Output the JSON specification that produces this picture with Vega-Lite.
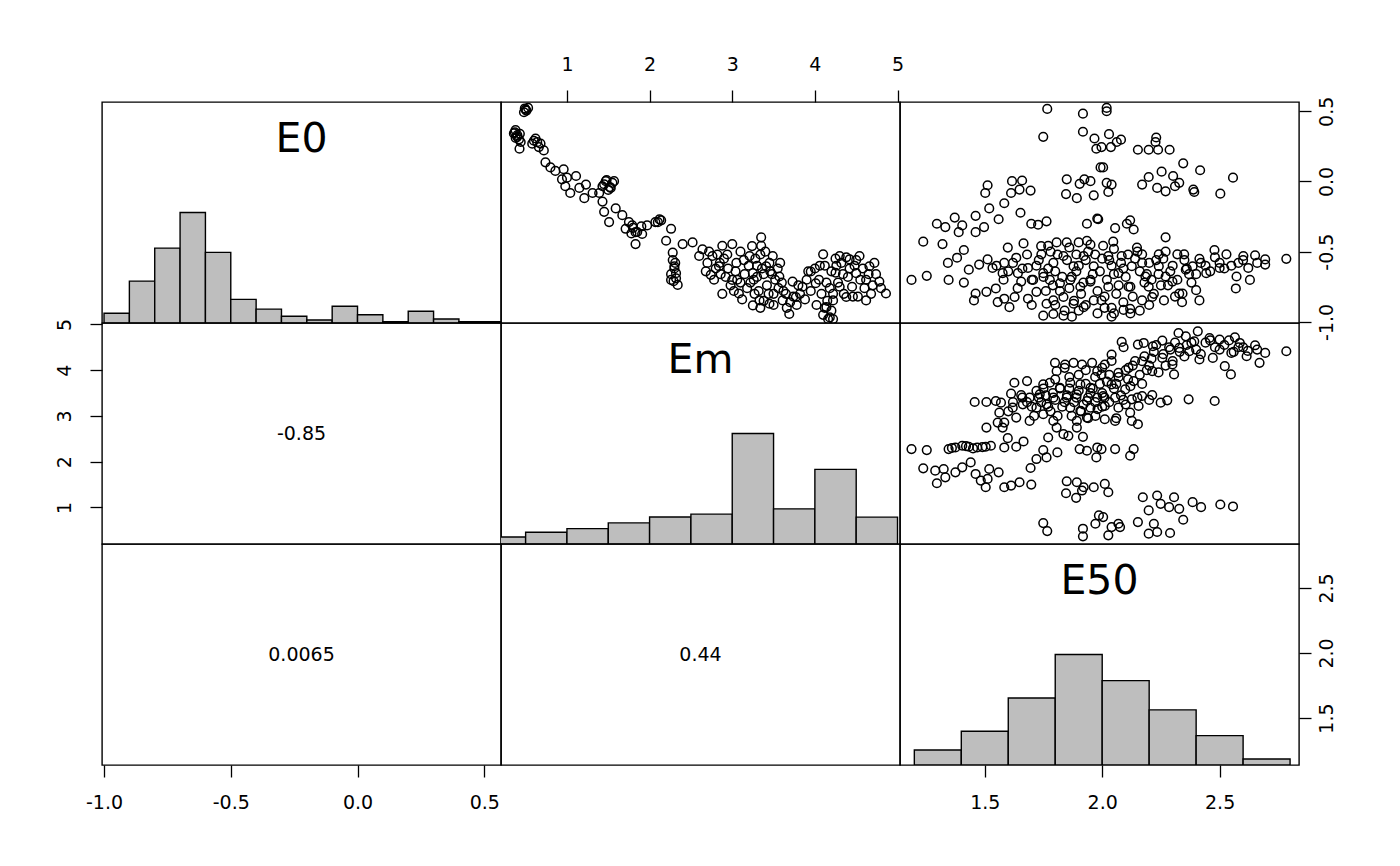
{
  "$schema": "https://vega.github.io/schema/vega-lite/v6.json",
  "description": "Scatterplot matrix of E0, Em and E50 with histograms and correlations",
  "background": "white",
  "padding": {"left": 54, "top": 54, "right": 5, "bottom": 5},
  "config": {
    "font": "DejaVu Sans",
    "view": {"stroke": "black", "strokeWidth": 1.4},
    "axis": {
      "domain": false,
      "grid": false,
      "tickSize": 12,
      "tickColor": "black",
      "tickWidth": 1.3,
      "labelFontSize": 19,
      "labelColor": "black",
      "labelFont": "DejaVu Sans",
      "labelFlush": false,
      "labelOverlap": false
    }
  },
  "datasets": {
    "h0": [
      {"lo": -1.0, "hi": -0.9, "h": 0.088},
      {"lo": -0.9, "hi": -0.8, "h": 0.379},
      {"lo": -0.8, "hi": -0.7, "h": 0.678},
      {"lo": -0.7, "hi": -0.6, "h": 1.0},
      {"lo": -0.6, "hi": -0.5, "h": 0.639},
      {"lo": -0.5, "hi": -0.4, "h": 0.214},
      {"lo": -0.4, "hi": -0.3, "h": 0.126},
      {"lo": -0.3, "hi": -0.2, "h": 0.061},
      {"lo": -0.2, "hi": -0.1, "h": 0.027},
      {"lo": -0.1, "hi": 0.0, "h": 0.151},
      {"lo": 0.0, "hi": 0.1, "h": 0.075},
      {"lo": 0.1, "hi": 0.2, "h": 0.012},
      {"lo": 0.2, "hi": 0.3, "h": 0.106},
      {"lo": 0.3, "hi": 0.4, "h": 0.036},
      {"lo": 0.4, "hi": 0.5, "h": 0.012},
      {"lo": 0.5, "hi": 0.6, "h": 0.012}
    ],
    "hm": [
      {"lo": 0.0, "hi": 0.5, "h": 0.064},
      {"lo": 0.5, "hi": 1.0, "h": 0.106},
      {"lo": 1.0, "hi": 1.5, "h": 0.139},
      {"lo": 1.5, "hi": 2.0, "h": 0.191},
      {"lo": 2.0, "hi": 2.5, "h": 0.245},
      {"lo": 2.5, "hi": 3.0, "h": 0.27},
      {"lo": 3.0, "hi": 3.5, "h": 1.0},
      {"lo": 3.5, "hi": 4.0, "h": 0.318},
      {"lo": 4.0, "hi": 4.5, "h": 0.675},
      {"lo": 4.5, "hi": 5.0, "h": 0.243}
    ],
    "h50": [
      {"lo": 1.2, "hi": 1.4, "h": 0.136},
      {"lo": 1.4, "hi": 1.6, "h": 0.305},
      {"lo": 1.6, "hi": 1.8, "h": 0.607},
      {"lo": 1.8, "hi": 2.0, "h": 1.0},
      {"lo": 2.0, "hi": 2.2, "h": 0.764},
      {"lo": 2.2, "hi": 2.4, "h": 0.499},
      {"lo": 2.4, "hi": 2.6, "h": 0.266},
      {"lo": 2.6, "hi": 2.8, "h": 0.054}
    ],
    "s01": [
      {"Em": 0.50, "E0": 0.512}, {"Em": 0.48, "E0": 0.493}, {"Em": 0.53, "E0": 0.524}, {"Em": 0.378, "E0": 0.366},
      {"Em": 0.398, "E0": 0.318}, {"Em": 0.426, "E0": 0.233}, {"Em": 0.44, "E0": 0.281}, {"Em": 0.358, "E0": 0.342},
      {"Em": 0.62, "E0": 0.306}, {"Em": 0.58, "E0": 0.269}, {"Em": 0.66, "E0": 0.245}, {"Em": 0.72, "E0": 0.221},
      {"Em": 0.74, "E0": 0.136}, {"Em": 0.80, "E0": 0.10}, {"Em": 0.86, "E0": 0.075}, {"Em": 0.96, "E0": 0.087},
      {"Em": 0.94, "E0": 0.015}, {"Em": 1.00, "E0": 0.027}, {"Em": 1.11, "E0": 0.039}, {"Em": 0.98, "E0": -0.034},
      {"Em": 1.04, "E0": -0.082}, {"Em": 1.15, "E0": -0.046}, {"Em": 1.21, "E0": -0.119}, {"Em": 1.23, "E0": -0.022},
      {"Em": 1.31, "E0": -0.082}, {"Em": 1.39, "E0": -0.082}, {"Em": 1.47, "E0": 0.002}, {"Em": 1.57, "E0": 0.002},
      {"Em": 1.53, "E0": -0.046}, {"Em": 1.43, "E0": -0.034}, {"Em": 1.43, "E0": -0.143}, {"Em": 1.45, "E0": -0.216},
      {"Em": 1.51, "E0": -0.289}, {"Em": 1.59, "E0": -0.192}, {"Em": 1.67, "E0": -0.24}, {"Em": 1.75, "E0": -0.289},
      {"Em": 1.79, "E0": -0.313}, {"Em": 1.83, "E0": -0.361}, {"Em": 1.71, "E0": -0.337}, {"Em": 1.83, "E0": -0.446},
      {"Em": 1.91, "E0": -0.374}, {"Em": 1.97, "E0": -0.313}, {"Em": 2.07, "E0": -0.289}, {"Em": 2.14, "E0": -0.277},
      {"Em": 2.26, "E0": -0.337}, {"Em": 2.20, "E0": -0.422}, {"Em": 2.28, "E0": -0.507}, {"Em": 2.30, "E0": -0.604},
      {"Em": 2.26, "E0": -0.701}, {"Em": 2.34, "E0": -0.737}, {"Em": 2.32, "E0": -0.653}, {"Em": 2.40, "E0": -0.446},
      {"Em": 2.52, "E0": -0.434}, {"Em": 2.60, "E0": -0.531},
      {"Em": 2.64, "E0": -0.483}, {"Em": 2.76, "E0": -0.531}, {"Em": 2.88, "E0": -0.458}, {"Em": 3.00, "E0": -0.446},
      {"Em": 2.74, "E0": -0.665}, {"Em": 2.84, "E0": -0.604}, {"Em": 3.00, "E0": -0.701}, {"Em": 3.08, "E0": -0.798},
      {"Em": 3.21, "E0": -0.531}, {"Em": 3.35, "E0": -0.398}, {"Em": 3.35, "E0": -0.458}, {"Em": 3.25, "E0": -0.653},
      {"Em": 3.41, "E0": -0.604}, {"Em": 3.49, "E0": -0.531}, {"Em": 3.57, "E0": -0.677}, {"Em": 3.33, "E0": -0.847},
      {"Em": 3.25, "E0": -0.883}, {"Em": 3.45, "E0": -0.871}, {"Em": 3.61, "E0": -0.847}, {"Em": 3.73, "E0": -0.713},
      {"Em": 3.69, "E0": -0.944}, {"Em": 3.77, "E0": -0.823}, {"Em": 3.85, "E0": -0.750}, {"Em": 3.95, "E0": -0.641},
      {"Em": 4.01, "E0": -0.725}, {"Em": 4.10, "E0": -0.519}, {"Em": 4.14, "E0": -0.895}, {"Em": 4.18, "E0": -0.968},
      {"Em": 4.22, "E0": -0.847}, {"Em": 4.30, "E0": -0.531}, {"Em": 4.42, "E0": -0.555}, {"Em": 4.54, "E0": -0.531},
      {"Em": 4.50, "E0": -0.653}, {"Em": 4.66, "E0": -0.604}, {"Em": 4.78, "E0": -0.713}, {"Em": 4.86, "E0": -0.798},
      {"Em": 4.62, "E0": -0.847}, {"Em": 4.38, "E0": -0.823}, {"Em": 4.30, "E0": -0.750},
      {"Em": 2.9, "E0": -0.55}, {"Em": 2.95, "E0": -0.62}, {"Em": 3.05, "E0": -0.58}, {"Em": 3.1, "E0": -0.50},
      {"Em": 3.15, "E0": -0.66}, {"Em": 3.2, "E0": -0.60}, {"Em": 3.22, "E0": -0.72}, {"Em": 3.28, "E0": -0.55},
      {"Em": 3.3, "E0": -0.68}, {"Em": 3.32, "E0": -0.78}, {"Em": 3.36, "E0": -0.62}, {"Em": 3.4, "E0": -0.50},
      {"Em": 3.42, "E0": -0.74}, {"Em": 3.45, "E0": -0.58}, {"Em": 3.48, "E0": -0.66}, {"Em": 3.5, "E0": -0.80},
      {"Em": 3.38, "E0": -0.85}, {"Em": 3.27, "E0": -0.80}, {"Em": 3.18, "E0": -0.76}, {"Em": 3.12, "E0": -0.84},
      {"Em": 3.06, "E0": -0.70}, {"Em": 2.98, "E0": -0.74}, {"Em": 2.92, "E0": -0.68}, {"Em": 2.85, "E0": -0.58},
      {"Em": 2.8, "E0": -0.62}, {"Em": 2.7, "E0": -0.58}, {"Em": 2.68, "E0": -0.64}, {"Em": 2.82, "E0": -0.52},
      {"Em": 3.55, "E0": -0.62}, {"Em": 3.6, "E0": -0.72}, {"Em": 3.65, "E0": -0.80}, {"Em": 3.7, "E0": -0.86},
      {"Em": 3.78, "E0": -0.88}, {"Em": 3.82, "E0": -0.80}, {"Em": 3.9, "E0": -0.70}, {"Em": 3.95, "E0": -0.78},
      {"Em": 4.0, "E0": -0.62}, {"Em": 4.05, "E0": -0.70}, {"Em": 4.08, "E0": -0.80}, {"Em": 4.12, "E0": -0.60},
      {"Em": 4.15, "E0": -0.85}, {"Em": 4.2, "E0": -0.92}, {"Em": 4.18, "E0": -0.76}, {"Em": 4.25, "E0": -0.65},
      {"Em": 4.28, "E0": -0.72}, {"Em": 4.32, "E0": -0.58}, {"Em": 4.35, "E0": -0.80}, {"Em": 4.4, "E0": -0.68},
      {"Em": 4.45, "E0": -0.75}, {"Em": 4.48, "E0": -0.60}, {"Em": 4.52, "E0": -0.82}, {"Em": 4.55, "E0": -0.70},
      {"Em": 4.6, "E0": -0.76}, {"Em": 4.65, "E0": -0.66}, {"Em": 4.7, "E0": -0.74}, {"Em": 4.72, "E0": -0.58},
      {"Em": 4.38, "E0": -0.54}, {"Em": 4.25, "E0": -0.55}, {"Em": 4.1, "E0": -0.95}, {"Em": 4.16, "E0": -0.98},
      {"Em": 3.34, "E0": -0.90}, {"Em": 3.5, "E0": -0.88}, {"Em": 3.02, "E0": -0.78}, {"Em": 2.88, "E0": -0.80},
      {"Em": 1.45, "E0": -0.02}, {"Em": 1.5, "E0": -0.06}, {"Em": 1.55, "E0": -0.01}, {"Em": 1.48, "E0": 0.01},
      {"Em": 1.52, "E0": -0.04}, {"Em": 1.8, "E0": -0.33}, {"Em": 1.85, "E0": -0.36}, {"Em": 1.9, "E0": -0.32},
      {"Em": 1.78, "E0": -0.37}, {"Em": 2.28, "E0": -0.56}, {"Em": 2.3, "E0": -0.62}, {"Em": 2.26, "E0": -0.66},
      {"Em": 2.32, "E0": -0.69}, {"Em": 2.29, "E0": -0.71}, {"Em": 2.31, "E0": -0.58}, {"Em": 0.4, "E0": 0.33},
      {"Em": 0.42, "E0": 0.30}, {"Em": 0.38, "E0": 0.31}, {"Em": 0.64, "E0": 0.28}, {"Em": 0.68, "E0": 0.27},
      {"Em": 0.6, "E0": 0.29}, {"Em": 2.1, "E0": -0.29}, {"Em": 2.12, "E0": -0.27},
      {"Em": 2.72, "E0": -0.5}, {"Em": 2.78, "E0": -0.7}, {"Em": 2.86, "E0": -0.66}, {"Em": 2.94, "E0": -0.52},
      {"Em": 3.04, "E0": -0.64}, {"Em": 3.14, "E0": -0.56}, {"Em": 3.24, "E0": -0.46}, {"Em": 3.26, "E0": -0.7},
      {"Em": 3.3, "E0": -0.6}, {"Em": 3.34, "E0": -0.52}, {"Em": 3.38, "E0": -0.66}, {"Em": 3.44, "E0": -0.8},
      {"Em": 3.46, "E0": -0.64}, {"Em": 3.52, "E0": -0.7}, {"Em": 3.56, "E0": -0.76}, {"Em": 3.62, "E0": -0.78},
      {"Em": 3.66, "E0": -0.9}, {"Em": 3.74, "E0": -0.82}, {"Em": 3.8, "E0": -0.74}, {"Em": 3.88, "E0": -0.84},
      {"Em": 3.92, "E0": -0.64}, {"Em": 4.02, "E0": -0.88}, {"Em": 4.06, "E0": -0.6}, {"Em": 4.14, "E0": -0.72},
      {"Em": 4.2, "E0": -0.64}, {"Em": 4.22, "E0": -0.8}, {"Em": 4.26, "E0": -0.6}, {"Em": 4.34, "E0": -0.66},
      {"Em": 4.42, "E0": -0.62}, {"Em": 4.46, "E0": -0.82}, {"Em": 4.5, "E0": -0.56}, {"Em": 4.58, "E0": -0.62},
      {"Em": 4.62, "E0": -0.7}, {"Em": 4.68, "E0": -0.8}, {"Em": 4.74, "E0": -0.66}, {"Em": 4.8, "E0": -0.76},
      {"Em": 4.22, "E0": -0.98}, {"Em": 4.12, "E0": -0.9}, {"Em": 3.58, "E0": -0.58}, {"Em": 3.1, "E0": -0.72},
      {"Em": 0.51, "E0": 0.505}, {"Em": 0.49, "E0": 0.52}, {"Em": 0.37, "E0": 0.35}, {"Em": 0.43, "E0": 0.34}
    ],
    "s02": [
      {"E50": 1.188, "E0": -0.701}, {"E50": 1.253, "E0": -0.672}, {"E50": 1.238, "E0": -0.429}, {"E50": 1.320, "E0": -0.446},
      {"E50": 1.296, "E0": -0.301}, {"E50": 1.332, "E0": -0.325}, {"E50": 1.372, "E0": -0.257}, {"E50": 1.404, "E0": -0.313},
      {"E50": 1.389, "E0": -0.361}, {"E50": 1.461, "E0": -0.361}, {"E50": 1.461, "E0": -0.245}, {"E50": 1.497, "E0": -0.325},
      {"E50": 1.519, "E0": -0.192}, {"E50": 1.502, "E0": -0.082}, {"E50": 1.512, "E0": -0.027}, {"E50": 1.559, "E0": -0.269},
      {"E50": 1.583, "E0": -0.155}, {"E50": 1.612, "E0": -0.082}, {"E50": 1.616, "E0": 0.002}, {"E50": 1.659, "E0": 0.007},
      {"E50": 1.648, "E0": -0.058}, {"E50": 1.695, "E0": -0.065}, {"E50": 1.652, "E0": -0.223}, {"E50": 1.698, "E0": -0.301},
      {"E50": 1.727, "E0": -0.308}, {"E50": 1.763, "E0": -0.284}, {"E50": 1.665, "E0": -0.441}, {"E50": 1.598, "E0": -0.471},
      {"E50": 1.411, "E0": -0.488}, {"E50": 1.382, "E0": -0.543}, {"E50": 1.343, "E0": -0.580}, {"E50": 1.346, "E0": -0.701},
      {"E50": 1.411, "E0": -0.720}, {"E50": 1.432, "E0": -0.628}, {"E50": 1.476, "E0": -0.592}, {"E50": 1.512, "E0": -0.555},
      {"E50": 1.533, "E0": -0.616}, {"E50": 1.583, "E0": -0.580}, {"E50": 1.634, "E0": -0.543}, {"E50": 1.576, "E0": -0.653},
      {"E50": 1.461, "E0": -0.798}, {"E50": 1.454, "E0": -0.847}, {"E50": 1.507, "E0": -0.786}, {"E50": 1.547, "E0": -0.762},
      {"E50": 1.555, "E0": -0.859}, {"E50": 1.583, "E0": -0.835}, {"E50": 1.605, "E0": -0.895}, {"E50": 1.627, "E0": -0.823},
      {"E50": 1.655, "E0": -0.713}, {"E50": 1.641, "E0": -0.653}, {"E50": 1.684, "E0": -0.616}, {"E50": 1.706, "E0": -0.701},
      {"E50": 1.684, "E0": -0.835}, {"E50": 1.720, "E0": -0.786}, {"E50": 1.749, "E0": -0.653}, {"E50": 1.741, "E0": -0.519},
      {"E50": 1.770, "E0": -0.458}, {"E50": 1.806, "E0": -0.434}, {"E50": 1.849, "E0": -0.434}, {"E50": 1.900, "E0": -0.434},
      {"E50": 1.935, "E0": -0.422}, {"E50": 1.792, "E0": -0.580}, {"E50": 1.835, "E0": -0.531}, {"E50": 1.878, "E0": -0.604},
      {"E50": 1.921, "E0": -0.531}, {"E50": 1.964, "E0": -0.604}, {"E50": 1.777, "E0": -0.701}, {"E50": 1.820, "E0": -0.725},
      {"E50": 1.864, "E0": -0.701}, {"E50": 1.907, "E0": -0.750}, {"E50": 1.950, "E0": -0.713}, {"E50": 1.792, "E0": -0.847},
      {"E50": 1.835, "E0": -0.823}, {"E50": 1.878, "E0": -0.871}, {"E50": 1.921, "E0": -0.895}, {"E50": 1.964, "E0": -0.847},
      {"E50": 1.749, "E0": -0.956}, {"E50": 1.792, "E0": -0.944}, {"E50": 1.835, "E0": -0.956}, {"E50": 1.871, "E0": -0.963},
      {"E50": 1.763, "E0": -0.871}, {"E50": 1.749, "E0": 0.318}, {"E50": 1.766, "E0": 0.517}, {"E50": 1.918, "E0": 0.483},
      {"E50": 1.918, "E0": 0.354}, {"E50": 1.967, "E0": 0.306}, {"E50": 1.975, "E0": 0.233}, {"E50": 1.993, "E0": 0.100},
      {"E50": 1.849, "E0": 0.015}, {"E50": 1.846, "E0": -0.090}, {"E50": 1.892, "E0": -0.119}, {"E50": 1.904, "E0": -0.017},
      {"E50": 1.924, "E0": 0.015}, {"E50": 1.950, "E0": 0.002}, {"E50": 1.964, "E0": -0.099}, {"E50": 1.935, "E0": -0.301},
      {"E50": 1.979, "E0": -0.264},
      {"E50": 2.019, "E0": 0.524}, {"E50": 2.019, "E0": 0.500}, {"E50": 2.029, "E0": 0.337}, {"E50": 2.080, "E0": 0.298},
      {"E50": 2.062, "E0": 0.281}, {"E50": 2.037, "E0": 0.245}, {"E50": 1.997, "E0": 0.245}, {"E50": 2.152, "E0": 0.226},
      {"E50": 2.198, "E0": 0.226}, {"E50": 2.230, "E0": 0.313}, {"E50": 2.227, "E0": 0.281}, {"E50": 2.238, "E0": 0.226},
      {"E50": 2.287, "E0": 0.226}, {"E50": 2.004, "E0": 0.100}, {"E50": 2.345, "E0": 0.129}, {"E50": 2.417, "E0": 0.080},
      {"E50": 2.557, "E0": 0.027}, {"E50": 2.019, "E0": -0.010}, {"E50": 2.040, "E0": -0.022}, {"E50": 2.026, "E0": -0.075},
      {"E50": 2.170, "E0": -0.022}, {"E50": 2.198, "E0": 0.032}, {"E50": 2.253, "E0": 0.070}, {"E50": 2.302, "E0": 0.039},
      {"E50": 2.328, "E0": -0.010}, {"E50": 2.234, "E0": -0.046}, {"E50": 2.270, "E0": -0.070}, {"E50": 2.310, "E0": -0.034},
      {"E50": 2.388, "E0": -0.058}, {"E50": 2.392, "E0": -0.075}, {"E50": 2.503, "E0": -0.087}, {"E50": 1.983, "E0": -0.269},
      {"E50": 2.119, "E0": -0.277}, {"E50": 2.105, "E0": -0.301}, {"E50": 2.134, "E0": -0.342}, {"E50": 2.055, "E0": -0.332},
      {"E50": 2.270, "E0": -0.398}, {"E50": 2.047, "E0": -0.429}, {"E50": 2.004, "E0": -0.458}, {"E50": 2.148, "E0": -0.471},
      {"E50": 2.170, "E0": -0.519}, {"E50": 2.241, "E0": -0.519}, {"E50": 2.320, "E0": -0.519}, {"E50": 2.349, "E0": -0.519},
      {"E50": 2.414, "E0": -0.551}, {"E50": 2.478, "E0": -0.488}, {"E50": 2.529, "E0": -0.519}, {"E50": 2.601, "E0": -0.531},
      {"E50": 2.651, "E0": -0.526}, {"E50": 2.694, "E0": -0.555}, {"E50": 2.784, "E0": -0.551}, {"E50": 2.622, "E0": -0.616},
      {"E50": 2.572, "E0": -0.677}, {"E50": 2.629, "E0": -0.701}, {"E50": 2.569, "E0": -0.762}, {"E50": 2.694, "E0": -0.592},
      {"E50": 2.500, "E0": -0.616}, {"E50": 2.443, "E0": -0.653}, {"E50": 2.414, "E0": -0.847}, {"E50": 2.400, "E0": -0.774},
      {"E50": 2.342, "E0": -0.798}, {"E50": 2.299, "E0": -0.713}, {"E50": 2.263, "E0": -0.847}, {"E50": 2.213, "E0": -0.823},
      {"E50": 2.170, "E0": -0.847}, {"E50": 2.119, "E0": -0.907}, {"E50": 2.091, "E0": -0.915}, {"E50": 2.040, "E0": -0.900},
      {"E50": 2.040, "E0": -0.963}, {"E50": 1.997, "E0": -0.847}, {"E50": 2.069, "E0": -0.653}, {"E50": 2.126, "E0": -0.604},
      {"E50": 2.184, "E0": -0.677}, {"E50": 2.241, "E0": -0.604}, {"E50": 2.356, "E0": -0.628}, {"E50": 2.026, "E0": -0.531},
      {"E50": 2.083, "E0": -0.531}, {"E50": 2.026, "E0": -0.750}, {"E50": 2.112, "E0": -0.750}, {"E50": 2.198, "E0": -0.750},
      {"E50": 2.270, "E0": -0.677}, {"E50": 2.328, "E0": -0.798}, {"E50": 2.385, "E0": -0.604},
      {"E50": 1.68, "E0": -0.52}, {"E50": 1.72, "E0": -0.6}, {"E50": 1.75, "E0": -0.68}, {"E50": 1.78, "E0": -0.5},
      {"E50": 1.8, "E0": -0.64}, {"E50": 1.82, "E0": -0.78}, {"E50": 1.85, "E0": -0.56}, {"E50": 1.87, "E0": -0.68},
      {"E50": 1.88, "E0": -0.85}, {"E50": 1.9, "E0": -0.6}, {"E50": 1.92, "E0": -0.72}, {"E50": 1.94, "E0": -0.5},
      {"E50": 1.96, "E0": -0.66}, {"E50": 1.98, "E0": -0.78}, {"E50": 2.0, "E0": -0.55}, {"E50": 2.02, "E0": -0.7},
      {"E50": 2.04, "E0": -0.6}, {"E50": 2.06, "E0": -0.8}, {"E50": 2.08, "E0": -0.58}, {"E50": 2.1, "E0": -0.68},
      {"E50": 2.12, "E0": -0.75}, {"E50": 2.14, "E0": -0.55}, {"E50": 2.16, "E0": -0.64}, {"E50": 2.18, "E0": -0.72},
      {"E50": 2.2, "E0": -0.58}, {"E50": 2.22, "E0": -0.8}, {"E50": 2.24, "E0": -0.66}, {"E50": 2.26, "E0": -0.55},
      {"E50": 2.28, "E0": -0.74}, {"E50": 2.3, "E0": -0.6}, {"E50": 2.32, "E0": -0.7}, {"E50": 2.36, "E0": -0.62},
      {"E50": 2.38, "E0": -0.72}, {"E50": 2.42, "E0": -0.58}, {"E50": 2.46, "E0": -0.64}, {"E50": 2.5, "E0": -0.58},
      {"E50": 2.55, "E0": -0.6}, {"E50": 2.6, "E0": -0.56}, {"E50": 2.66, "E0": -0.58}, {"E50": 1.86, "E0": -0.47},
      {"E50": 1.95, "E0": -0.45}, {"E50": 2.05, "E0": -0.48}, {"E50": 2.15, "E0": -0.5}, {"E50": 1.76, "E0": -0.78},
      {"E50": 1.84, "E0": -0.92}, {"E50": 1.93, "E0": -0.88}, {"E50": 2.01, "E0": -0.9}, {"E50": 2.09, "E0": -0.86},
      {"E50": 2.16, "E0": -0.92}, {"E50": 1.7, "E0": -0.88}, {"E50": 1.66, "E0": -0.62}, {"E50": 1.62, "E0": -0.58},
      {"E50": 1.58, "E0": -0.7}, {"E50": 1.74, "E0": -0.46}, {"E50": 1.98, "E0": -0.94}, {"E50": 2.12, "E0": -0.94},
      {"E50": 2.34, "E0": -0.86}, {"E50": 2.4, "E0": -0.66}, {"E50": 1.89, "E0": -0.52}, {"E50": 2.27, "E0": -0.5},
      {"E50": 1.7, "E0": -0.7}, {"E50": 1.73, "E0": -0.56}, {"E50": 1.77, "E0": -0.62}, {"E50": 1.79, "E0": -0.74},
      {"E50": 1.81, "E0": -0.52}, {"E50": 1.83, "E0": -0.68}, {"E50": 1.86, "E0": -0.76}, {"E50": 1.89, "E0": -0.64},
      {"E50": 1.91, "E0": -0.8}, {"E50": 1.93, "E0": -0.56}, {"E50": 1.95, "E0": -0.7}, {"E50": 1.97, "E0": -0.52},
      {"E50": 1.99, "E0": -0.64}, {"E50": 2.01, "E0": -0.82}, {"E50": 2.03, "E0": -0.56}, {"E50": 2.05, "E0": -0.66},
      {"E50": 2.07, "E0": -0.74}, {"E50": 2.09, "E0": -0.62}, {"E50": 2.11, "E0": -0.52}, {"E50": 2.13, "E0": -0.82},
      {"E50": 2.17, "E0": -0.58}, {"E50": 2.19, "E0": -0.66}, {"E50": 2.21, "E0": -0.7}, {"E50": 2.23, "E0": -0.56},
      {"E50": 2.25, "E0": -0.74}, {"E50": 2.29, "E0": -0.64}, {"E50": 2.31, "E0": -0.82}, {"E50": 2.35, "E0": -0.56},
      {"E50": 2.37, "E0": -0.66}, {"E50": 2.44, "E0": -0.6}, {"E50": 2.48, "E0": -0.54}, {"E50": 2.52, "E0": -0.62},
      {"E50": 2.58, "E0": -0.58}, {"E50": 1.8, "E0": -0.88}, {"E50": 1.9, "E0": -0.92}, {"E50": 2.05, "E0": -0.94},
      {"E50": 2.2, "E0": -0.88}, {"E50": 1.64, "E0": -0.76}, {"E50": 1.6, "E0": -0.64}, {"E50": 1.55, "E0": -0.6}
    ],
    "s12": [
      {"E50": 1.188, "Em": 2.275}, {"E50": 1.253, "Em": 2.253}, {"E50": 1.238, "Em": 1.855}, {"E50": 1.296, "Em": 1.529},
      {"E50": 1.289, "Em": 1.804}, {"E50": 1.325, "Em": 1.840}, {"E50": 1.332, "Em": 1.659}, {"E50": 1.346, "Em": 2.275},
      {"E50": 1.375, "Em": 2.311}, {"E50": 1.404, "Em": 2.348}, {"E50": 1.432, "Em": 2.326}, {"E50": 1.468, "Em": 2.311},
      {"E50": 1.504, "Em": 2.326}, {"E50": 1.526, "Em": 2.348}, {"E50": 1.375, "Em": 1.768}, {"E50": 1.404, "Em": 1.877},
      {"E50": 1.440, "Em": 1.985}, {"E50": 1.461, "Em": 1.732}, {"E50": 1.483, "Em": 1.587}, {"E50": 1.504, "Em": 1.442},
      {"E50": 1.519, "Em": 1.840}, {"E50": 1.512, "Em": 1.623}, {"E50": 1.559, "Em": 1.768}, {"E50": 1.583, "Em": 1.442},
      {"E50": 1.612, "Em": 1.478}, {"E50": 1.648, "Em": 1.551}, {"E50": 1.698, "Em": 1.500}, {"E50": 1.583, "Em": 2.311},
      {"E50": 1.598, "Em": 2.514}, {"E50": 1.634, "Em": 2.326}, {"E50": 1.665, "Em": 2.442}, {"E50": 1.695, "Em": 1.862},
      {"E50": 1.720, "Em": 2.058}, {"E50": 1.749, "Em": 2.253}, {"E50": 1.763, "Em": 2.094}, {"E50": 1.809, "Em": 2.203},
      {"E50": 1.457, "Em": 3.304}, {"E50": 1.507, "Em": 3.304}, {"E50": 1.547, "Em": 3.326}, {"E50": 1.569, "Em": 3.290},
      {"E50": 1.562, "Em": 3.072}, {"E50": 1.555, "Em": 2.855}, {"E50": 1.583, "Em": 2.855}, {"E50": 1.576, "Em": 2.746},
      {"E50": 1.507, "Em": 2.746}, {"E50": 1.626, "Em": 3.724}, {"E50": 1.680, "Em": 3.761}, {"E50": 1.612, "Em": 3.486},
      {"E50": 1.655, "Em": 3.456}, {"E50": 1.619, "Em": 3.181}, {"E50": 1.634, "Em": 2.964}, {"E50": 1.662, "Em": 3.253},
      {"E50": 1.691, "Em": 3.398}, {"E50": 1.720, "Em": 3.181}, {"E50": 1.691, "Em": 2.891}, {"E50": 1.749, "Em": 3.688},
      {"E50": 1.777, "Em": 3.724}, {"E50": 1.734, "Em": 3.471}, {"E50": 1.763, "Em": 3.253}, {"E50": 1.792, "Em": 3.398},
      {"E50": 1.820, "Em": 3.616}, {"E50": 1.749, "Em": 3.036}, {"E50": 1.792, "Em": 2.891}, {"E50": 1.770, "Em": 2.529},
      {"E50": 1.806, "Em": 2.746}, {"E50": 1.835, "Em": 2.601}, {"E50": 1.856, "Em": 2.565}, {"E50": 1.806, "Em": 3.978},
      {"E50": 1.799, "Em": 4.159}, {"E50": 1.842, "Em": 4.123}, {"E50": 1.878, "Em": 4.159}, {"E50": 1.914, "Em": 4.123},
      {"E50": 1.957, "Em": 4.159}, {"E50": 1.979, "Em": 3.978}, {"E50": 1.864, "Em": 3.724}, {"E50": 1.907, "Em": 3.688},
      {"E50": 1.950, "Em": 3.616}, {"E50": 1.849, "Em": 3.398}, {"E50": 1.892, "Em": 3.471}, {"E50": 1.935, "Em": 3.326},
      {"E50": 1.979, "Em": 3.398}, {"E50": 1.864, "Em": 3.181}, {"E50": 1.907, "Em": 3.109}, {"E50": 1.950, "Em": 3.181},
      {"E50": 1.892, "Em": 2.891}, {"E50": 1.935, "Em": 2.964}, {"E50": 1.971, "Em": 3.000}, {"E50": 1.892, "Em": 2.746},
      {"E50": 1.918, "Em": 2.543}, {"E50": 1.904, "Em": 2.275}, {"E50": 1.935, "Em": 2.239}, {"E50": 1.979, "Em": 2.311},
      {"E50": 1.975, "Em": 2.094}, {"E50": 1.849, "Em": 1.572}, {"E50": 1.892, "Em": 1.551}, {"E50": 1.921, "Em": 1.442},
      {"E50": 1.964, "Em": 1.442}, {"E50": 1.846, "Em": 1.311}, {"E50": 1.889, "Em": 1.210}, {"E50": 1.914, "Em": 1.370},
      {"E50": 1.749, "Em": 0.659}, {"E50": 1.766, "Em": 0.485}, {"E50": 1.918, "Em": 0.536}, {"E50": 1.918, "Em": 0.369},
      {"E50": 1.971, "Em": 0.645}, {"E50": 1.986, "Em": 0.826},
      {"E50": 2.083, "Em": 4.616}, {"E50": 2.091, "Em": 4.500}, {"E50": 2.152, "Em": 4.558}, {"E50": 2.177, "Em": 4.594},
      {"E50": 2.216, "Em": 4.522}, {"E50": 2.256, "Em": 4.645}, {"E50": 2.285, "Em": 4.500}, {"E50": 2.325, "Em": 4.811},
      {"E50": 2.356, "Em": 4.739}, {"E50": 2.407, "Em": 4.848}, {"E50": 2.392, "Em": 4.630}, {"E50": 2.457, "Em": 4.703},
      {"E50": 2.500, "Em": 4.667}, {"E50": 2.565, "Em": 4.717}, {"E50": 2.586, "Em": 4.594}, {"E50": 2.651, "Em": 4.543},
      {"E50": 2.694, "Em": 4.377}, {"E50": 2.784, "Em": 4.413}, {"E50": 2.670, "Em": 4.159}, {"E50": 2.615, "Em": 4.304},
      {"E50": 2.550, "Em": 4.377}, {"E50": 2.522, "Em": 4.087}, {"E50": 2.548, "Em": 3.906}, {"E50": 2.471, "Em": 4.268},
      {"E50": 2.414, "Em": 4.232}, {"E50": 2.371, "Em": 4.413}, {"E50": 2.328, "Em": 4.485}, {"E50": 2.306, "Em": 3.906},
      {"E50": 2.299, "Em": 4.123}, {"E50": 2.256, "Em": 4.268}, {"E50": 2.213, "Em": 3.978}, {"E50": 2.170, "Em": 4.195},
      {"E50": 2.134, "Em": 3.761}, {"E50": 2.112, "Em": 4.050}, {"E50": 2.069, "Em": 3.942}, {"E50": 2.040, "Em": 4.340},
      {"E50": 2.011, "Em": 4.123}, {"E50": 1.997, "Em": 3.906}, {"E50": 2.040, "Em": 3.688}, {"E50": 2.098, "Em": 3.579},
      {"E50": 2.004, "Em": 3.435}, {"E50": 2.055, "Em": 3.398}, {"E50": 2.126, "Em": 3.362}, {"E50": 2.170, "Em": 3.435},
      {"E50": 2.213, "Em": 3.456}, {"E50": 2.249, "Em": 3.290}, {"E50": 2.277, "Em": 3.340}, {"E50": 2.368, "Em": 3.362},
      {"E50": 2.479, "Em": 3.326}, {"E50": 2.011, "Em": 3.217}, {"E50": 2.069, "Em": 3.181}, {"E50": 2.119, "Em": 3.072},
      {"E50": 2.155, "Em": 3.217}, {"E50": 2.011, "Em": 2.927}, {"E50": 2.055, "Em": 2.891}, {"E50": 2.126, "Em": 2.891},
      {"E50": 2.152, "Em": 2.819}, {"E50": 1.997, "Em": 2.275}, {"E50": 2.055, "Em": 2.275}, {"E50": 2.119, "Em": 2.130},
      {"E50": 2.134, "Em": 2.275}, {"E50": 2.011, "Em": 1.514}, {"E50": 2.026, "Em": 1.333}, {"E50": 2.004, "Em": 0.790},
      {"E50": 2.040, "Em": 0.572}, {"E50": 2.026, "Em": 0.391}, {"E50": 2.076, "Em": 0.572}, {"E50": 2.069, "Em": 0.645},
      {"E50": 2.173, "Em": 1.224}, {"E50": 2.234, "Em": 1.261}, {"E50": 2.306, "Em": 1.224}, {"E50": 2.198, "Em": 0.935},
      {"E50": 2.249, "Em": 1.080}, {"E50": 2.285, "Em": 1.007}, {"E50": 2.328, "Em": 0.971}, {"E50": 2.385, "Em": 1.116},
      {"E50": 2.421, "Em": 1.007}, {"E50": 2.503, "Em": 1.065}, {"E50": 2.557, "Em": 1.022}, {"E50": 2.152, "Em": 0.681},
      {"E50": 2.220, "Em": 0.645}, {"E50": 2.198, "Em": 0.427}, {"E50": 2.234, "Em": 0.464}, {"E50": 2.289, "Em": 0.442},
      {"E50": 2.345, "Em": 0.732},
      {"E50": 1.7, "Em": 3.2}, {"E50": 1.74, "Em": 3.3}, {"E50": 1.78, "Em": 3.1}, {"E50": 1.8, "Em": 3.35},
      {"E50": 1.83, "Em": 3.2}, {"E50": 1.85, "Em": 3.45}, {"E50": 1.87, "Em": 3.0}, {"E50": 1.88, "Em": 3.3},
      {"E50": 1.9, "Em": 3.55}, {"E50": 1.92, "Em": 3.25}, {"E50": 1.94, "Em": 3.4}, {"E50": 1.96, "Em": 3.6},
      {"E50": 1.98, "Em": 3.15}, {"E50": 2.0, "Em": 3.5}, {"E50": 2.02, "Em": 3.75}, {"E50": 2.03, "Em": 3.3},
      {"E50": 2.05, "Em": 3.6}, {"E50": 2.07, "Em": 3.85}, {"E50": 2.08, "Em": 3.45}, {"E50": 2.1, "Em": 4.0},
      {"E50": 2.12, "Em": 3.65}, {"E50": 2.14, "Em": 4.2}, {"E50": 2.16, "Em": 3.9}, {"E50": 2.18, "Em": 4.3},
      {"E50": 2.2, "Em": 4.1}, {"E50": 2.22, "Em": 4.4}, {"E50": 2.24, "Em": 3.95}, {"E50": 2.26, "Em": 4.35},
      {"E50": 2.3, "Em": 4.2}, {"E50": 2.33, "Em": 4.4}, {"E50": 2.36, "Em": 4.55}, {"E50": 2.4, "Em": 4.45},
      {"E50": 2.44, "Em": 4.6}, {"E50": 2.48, "Em": 4.5}, {"E50": 2.52, "Em": 4.55}, {"E50": 2.56, "Em": 4.4},
      {"E50": 2.6, "Em": 4.5}, {"E50": 1.93, "Em": 4.0}, {"E50": 1.97, "Em": 3.85}, {"E50": 2.0, "Em": 4.05},
      {"E50": 2.04, "Em": 4.2}, {"E50": 1.86, "Em": 3.85}, {"E50": 1.82, "Em": 3.6}, {"E50": 1.76, "Em": 3.45},
      {"E50": 1.72, "Em": 3.55}, {"E50": 1.66, "Em": 3.4}, {"E50": 1.62, "Em": 3.3}, {"E50": 1.6, "Em": 3.1},
      {"E50": 2.1, "Em": 3.25}, {"E50": 2.15, "Em": 3.4}, {"E50": 2.2, "Em": 3.35}, {"E50": 2.0, "Em": 3.2},
      {"E50": 1.94, "Em": 2.95}, {"E50": 2.06, "Em": 2.95}, {"E50": 1.36, "Em": 2.3}, {"E50": 1.42, "Em": 2.34},
      {"E50": 1.45, "Em": 2.29}, {"E50": 1.49, "Em": 2.32},
      {"E50": 1.68, "Em": 3.3}, {"E50": 1.71, "Em": 3.0}, {"E50": 1.73, "Em": 3.4}, {"E50": 1.75, "Em": 3.6},
      {"E50": 1.77, "Em": 3.2}, {"E50": 1.79, "Em": 3.5}, {"E50": 1.81, "Em": 3.0}, {"E50": 1.84, "Em": 3.3},
      {"E50": 1.86, "Em": 3.6}, {"E50": 1.89, "Em": 3.4}, {"E50": 1.91, "Em": 3.1}, {"E50": 1.93, "Em": 3.7},
      {"E50": 1.95, "Em": 3.5}, {"E50": 1.97, "Em": 3.3}, {"E50": 1.99, "Em": 3.7}, {"E50": 2.01, "Em": 3.4},
      {"E50": 2.03, "Em": 3.9}, {"E50": 2.06, "Em": 3.7}, {"E50": 2.09, "Em": 3.35}, {"E50": 2.11, "Em": 3.8},
      {"E50": 2.13, "Em": 4.1}, {"E50": 2.17, "Em": 3.7}, {"E50": 2.19, "Em": 4.0}, {"E50": 2.21, "Em": 4.25},
      {"E50": 2.23, "Em": 4.55}, {"E50": 2.27, "Em": 4.1}, {"E50": 2.29, "Em": 4.45}, {"E50": 2.31, "Em": 4.6},
      {"E50": 2.35, "Em": 4.3}, {"E50": 2.38, "Em": 4.6}, {"E50": 2.42, "Em": 4.35}, {"E50": 2.46, "Em": 4.65},
      {"E50": 2.5, "Em": 4.45}, {"E50": 2.54, "Em": 4.65}, {"E50": 2.58, "Em": 4.5}, {"E50": 2.62, "Em": 4.42},
      {"E50": 2.66, "Em": 4.45}, {"E50": 1.9, "Em": 3.9}, {"E50": 1.84, "Em": 4.05}, {"E50": 1.8, "Em": 3.8}
    ]
  },
  "columns": 3,
  "spacing": 0,
  "bounds": "flush",
  "concat": [
    {
      "width": 399,
      "height": 221,
      "layer": [
        {
          "data": {"name": "h0"},
          "mark": {"type": "rect", "fill": "#bebebe", "stroke": "black", "strokeWidth": 1.4, "clip": true},
          "encoding": {
            "x": {"field": "lo", "type": "quantitative", "scale": {"domain": [-1.008, 0.566], "nice": false, "zero": false}, "axis": null},
            "x2": {"field": "hi"},
            "y": {"field": "h", "type": "quantitative", "scale": {"domain": [0, 2], "nice": false}, "axis": null},
            "y2": {"datum": 0}
          }
        },
        {
          "data": {"values": [{"name": "E0"}]},
          "mark": {"type": "text", "fontSize": 41, "align": "center", "baseline": "alphabetic", "color": "black"},
          "encoding": {
            "text": {"field": "name"},
            "x": {"datum": -0.221, "type": "quantitative"},
            "y": {"datum": 1.55, "type": "quantitative"}
          }
        }
      ]
    },
    {
      "width": 399,
      "height": 221,
      "data": {"name": "s01"},
      "mark": {"type": "point", "shape": "circle", "filled": false, "color": "black", "opacity": 1, "strokeWidth": 1.5, "size": 75, "clip": true},
      "encoding": {
        "x": {
          "field": "Em", "type": "quantitative",
          "scale": {"domain": [0.202, 5.03], "nice": false, "zero": false},
          "axis": {"orient": "top", "title": null, "values": [1, 2, 3, 4, 5], "format": "d", "labelPadding": 16, "labelBaseline": "bottom"}
        },
        "y": {"field": "E0", "type": "quantitative", "scale": {"domain": [-1.008, 0.566], "nice": false, "zero": false}, "axis": null}
      }
    },
    {
      "width": 399,
      "height": 221,
      "data": {"name": "s02"},
      "mark": {"type": "point", "shape": "circle", "filled": false, "color": "black", "opacity": 1, "strokeWidth": 1.5, "size": 75, "clip": true},
      "encoding": {
        "x": {"field": "E50", "type": "quantitative", "scale": {"domain": [1.139, 2.838], "nice": false, "zero": false}, "axis": null},
        "y": {
          "field": "E0", "type": "quantitative",
          "scale": {"domain": [-1.008, 0.566], "nice": false, "zero": false},
          "axis": {"orient": "right", "title": null, "values": [-1, -0.5, 0, 0.5], "labelExpr": "replace(format(datum.value, '.1f'), '\u2212', '-')", "labelAngle": -90, "labelAlign": "center", "labelBaseline": "top", "labelPadding": 6}
        }
      }
    },
    {
      "width": 399,
      "height": 221,
      "data": {"values": [{"r": "-0.85"}]},
      "mark": {"type": "text", "fontSize": 19, "align": "center", "baseline": "middle", "color": "black"},
      "encoding": {
        "text": {"field": "r"},
        "x": {"datum": -0.221, "type": "quantitative", "scale": {"domain": [-1.008, 0.566], "nice": false, "zero": false}, "axis": null},
        "y": {
          "datum": 2.616, "type": "quantitative",
          "scale": {"domain": [0.202, 5.03], "nice": false, "zero": false},
          "axis": {"orient": "left", "title": null, "values": [1, 2, 3, 4, 5], "format": "d", "labelAngle": -90, "labelAlign": "center", "labelBaseline": "bottom", "labelPadding": 16}
        }
      }
    },
    {
      "width": 399,
      "height": 221,
      "layer": [
        {
          "data": {"name": "hm"},
          "mark": {"type": "rect", "fill": "#bebebe", "stroke": "black", "strokeWidth": 1.4, "clip": true},
          "encoding": {
            "x": {"field": "lo", "type": "quantitative", "scale": {"domain": [0.202, 5.03], "nice": false, "zero": false}, "axis": null},
            "x2": {"field": "hi"},
            "y": {"field": "h", "type": "quantitative", "scale": {"domain": [0, 2], "nice": false}, "axis": null},
            "y2": {"datum": 0}
          }
        },
        {
          "data": {"values": [{"name": "Em"}]},
          "mark": {"type": "text", "fontSize": 41, "align": "center", "baseline": "alphabetic", "color": "black"},
          "encoding": {
            "text": {"field": "name"},
            "x": {"datum": 2.616, "type": "quantitative"},
            "y": {"datum": 1.55, "type": "quantitative"}
          }
        }
      ]
    },
    {
      "width": 399,
      "height": 221,
      "data": {"name": "s12"},
      "mark": {"type": "point", "shape": "circle", "filled": false, "color": "black", "opacity": 1, "strokeWidth": 1.5, "size": 75, "clip": true},
      "encoding": {
        "x": {"field": "E50", "type": "quantitative", "scale": {"domain": [1.139, 2.838], "nice": false, "zero": false}, "axis": null},
        "y": {"field": "Em", "type": "quantitative", "scale": {"domain": [0.202, 5.03], "nice": false, "zero": false}, "axis": null}
      }
    },
    {
      "width": 399,
      "height": 221,
      "data": {"values": [{"r": "0.0065"}]},
      "mark": {"type": "text", "fontSize": 19, "align": "center", "baseline": "middle", "color": "black"},
      "encoding": {
        "text": {"field": "r"},
        "x": {
          "datum": -0.221, "type": "quantitative",
          "scale": {"domain": [-1.008, 0.566], "nice": false, "zero": false},
          "axis": {"orient": "bottom", "title": null, "values": [-1, -0.5, 0, 0.5], "labelExpr": "replace(format(datum.value, '.1f'), '\u2212', '-')", "labelPadding": 16, "labelBaseline": "top"}
        },
        "y": {"datum": 1.9885, "type": "quantitative", "scale": {"domain": [1.139, 2.838], "nice": false, "zero": false}, "axis": null}
      }
    },
    {
      "width": 399,
      "height": 221,
      "data": {"values": [{"r": "0.44"}]},
      "mark": {"type": "text", "fontSize": 19, "align": "center", "baseline": "middle", "color": "black"},
      "encoding": {
        "text": {"field": "r"},
        "x": {"datum": 2.616, "type": "quantitative", "scale": {"domain": [0.202, 5.03], "nice": false, "zero": false}, "axis": null},
        "y": {"datum": 1.9885, "type": "quantitative", "scale": {"domain": [1.139, 2.838], "nice": false, "zero": false}, "axis": null}
      }
    },
    {
      "width": 399,
      "height": 221,
      "resolve": {"scale": {"y": "independent"}, "axis": {"y": "independent"}},
      "layer": [
        {
          "data": {"name": "h50"},
          "mark": {"type": "rect", "fill": "#bebebe", "stroke": "black", "strokeWidth": 1.4, "clip": true},
          "encoding": {
            "x": {
              "field": "lo", "type": "quantitative",
              "scale": {"domain": [1.139, 2.838], "nice": false, "zero": false},
              "axis": {"orient": "bottom", "title": null, "values": [1.5, 2, 2.5], "format": ".1f", "labelPadding": 16, "labelBaseline": "top"}
            },
            "x2": {"field": "hi"},
            "y": {"field": "h", "type": "quantitative", "scale": {"domain": [0, 2], "nice": false}, "axis": null},
            "y2": {"datum": 0}
          }
        },
        {
          "data": {"values": [{"name": "E50"}]},
          "mark": {"type": "text", "fontSize": 41, "align": "center", "baseline": "alphabetic", "color": "black"},
          "encoding": {
            "text": {"field": "name"},
            "x": {"datum": 1.9885, "type": "quantitative"},
            "y": {"datum": 1.55, "type": "quantitative", "scale": {"domain": [0, 2], "nice": false}, "axis": null}
          }
        },
        {
          "data": {"values": [{}]},
          "mark": {"type": "point", "opacity": 0},
          "encoding": {
            "x": {"datum": 1.9885, "type": "quantitative"},
            "y": {
              "datum": 1.9885, "type": "quantitative",
              "scale": {"domain": [1.139, 2.838], "nice": false, "zero": false},
              "axis": {"orient": "right", "title": null, "values": [1.5, 2, 2.5], "format": ".1f", "labelAngle": -90, "labelAlign": "center", "labelBaseline": "top", "labelPadding": 6}
            }
          }
        }
      ]
    }
  ]
}
